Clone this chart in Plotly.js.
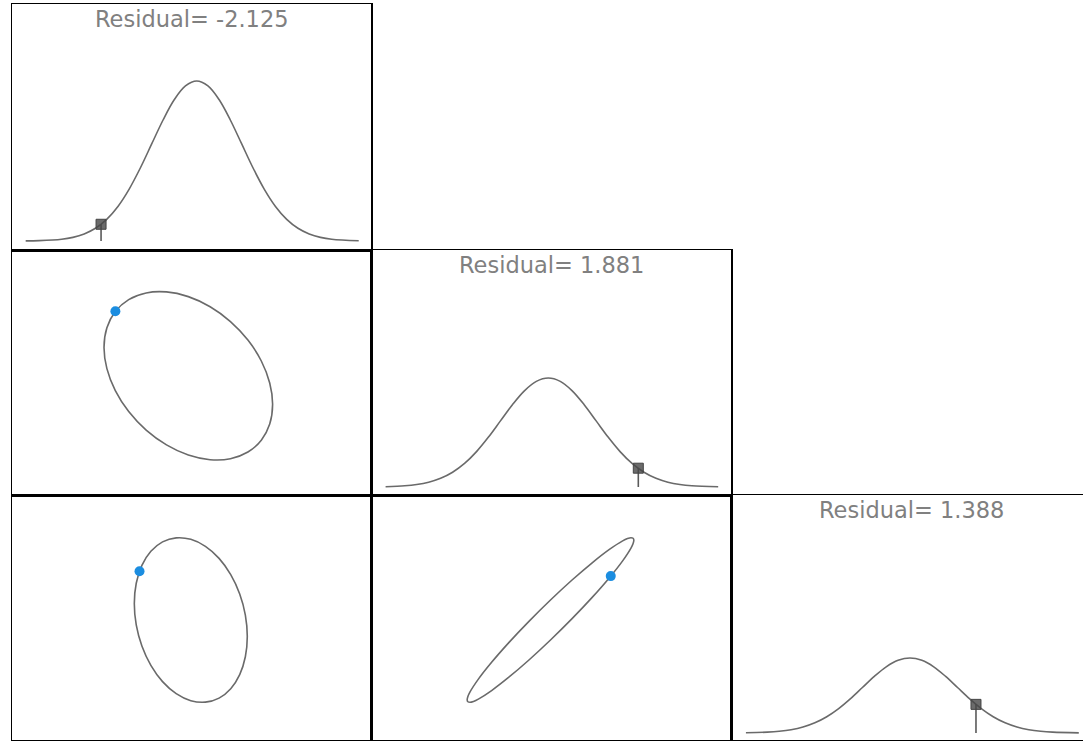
<!DOCTYPE html>
<html>
<head>
<meta charset="utf-8">
<script src="https://cdn.plot.ly/plotly-3.0.1.min.js"></script>
<style>
    html, body { margin: 0; padding: 0; overflow: hidden; background: #fff; }
    #cornerPlot { width: 1092px; height: 742px; }
</style>
</head>
<body>
<div id="cornerPlot"></div>
<script>
// standardized residuals of the three parameters
const residuals = [-2.125, 1.881, 1.388];
const residualDensity = [0.0418, 0.047, 0.0716];

// marginal densities (diagonal panels)
const marg1X = [-3.8, -3.5, -3, -2.75, -2.5, -2.25, -2, -1.75, -1.5, -1.25, -1, -0.75, -0.5, -0.25, 0, 0.25, 0.5, 0.75, 1, 1.25, 1.5, 1.75, 2, 2.25, 2.5, 2.75, 3, 3.6];
const marg1Y = [0.0003, 0.0009, 0.0044, 0.0091, 0.0176, 0.0318, 0.0541, 0.0865, 0.1299, 0.1831, 0.2426, 0.3019, 0.3530, 0.3877, 0.4000, 0.3877, 0.3530, 0.3019, 0.2426, 0.1831, 0.1299, 0.0865, 0.0541, 0.0318, 0.0176, 0.0091, 0.0044, 0.0006];
const marg2X = [-3.4, -3, -2.75, -2.5, -2.25, -2, -1.75, -1.5, -1.25, -1, -0.75, -0.5, -0.25, 0, 0.25, 0.5, 0.75, 1, 1.25, 1.5, 1.75, 2, 2.25, 2.5, 2.75, 3, 3.55];
const marg2Y = [0.0008, 0.0030, 0.0062, 0.0120, 0.0217, 0.0369, 0.0589, 0.0885, 0.1248, 0.1653, 0.2057, 0.2405, 0.2641, 0.2725, 0.2641, 0.2405, 0.2057, 0.1653, 0.1248, 0.0885, 0.0589, 0.0369, 0.0217, 0.0120, 0.0062, 0.0030, 0.0005];
const marg3X = [-3.45, -3, -2.75, -2.5, -2.25, -2, -1.75, -1.5, -1.25, -1, -0.75, -0.5, -0.25, 0, 0.25, 0.5, 0.75, 1, 1.25, 1.5, 1.75, 2, 2.25, 2.5, 2.75, 3, 3.55];
const marg3Y = [0.0005, 0.0021, 0.0043, 0.0082, 0.0149, 0.0254, 0.0406, 0.0609, 0.0858, 0.1137, 0.1415, 0.1655, 0.1817, 0.1875, 0.1817, 0.1655, 0.1415, 0.1137, 0.0858, 0.0609, 0.0406, 0.0254, 0.0149, 0.0082, 0.0043, 0.0021, 0.0003];

// joint contours passing through the residual point (off-diagonal panels)
const ell12X = [2.456, 2.372, 2.127, 1.737, 1.228, 0.636, 0, -0.636, -1.228, -1.737, -2.127, -2.372, -2.456, -2.372, -2.127, -1.737, -1.228, -0.636, 0, 0.636, 1.228, 1.737, 2.127, 2.372, 2.456];
const ell12Y = [-0.835, -0.209, 0.432, 1.043, 1.583, 2.015, 2.310, 2.447, 2.418, 2.224, 1.878, 1.404, 0.835, 0.209, -0.432, -1.043, -1.583, -2.015, -2.310, -2.447, -2.418, -2.224, -1.878, -1.404, -0.835];
const ell13X = [2.341, 2.261, 2.027, 1.655, 1.171, 0.606, 0, -0.606, -1.171, -1.655, -2.027, -2.261, -2.341, -2.261, -2.027, -1.655, -1.171, -0.606, 0, 0.606, 1.171, 1.655, 2.027, 2.261, 2.341];
const ell13Y = [-0.468, 0.141, 0.741, 1.291, 1.752, 2.094, 2.294, 2.337, 2.221, 1.953, 1.552, 1.046, 0.468, -0.141, -0.741, -1.291, -1.752, -2.094, -2.294, -2.337, -2.221, -1.953, -1.552, -1.046, -0.468];
const ell23X = [2.601, 2.579, 2.512, 2.403, 2.252, 1.839, 1.301, 0.673, 0, -0.673, -1.301, -1.839, -2.252, -2.512, -2.579, -2.601, -2.579, -2.512, -2.403, -2.252, -1.839, -1.301, -0.673, 0, 0.673, 1.301, 1.839, 2.252, 2.512, 2.579, 2.601];
const ell23Y = [2.523, 2.584, 2.601, 2.573, 2.501, 2.231, 1.809, 1.264, 0.632, -0.042, -0.714, -1.337, -1.869, -2.273, -2.419, -2.523, -2.584, -2.601, -2.573, -2.501, -2.231, -1.809, -1.264, -0.632, 0.042, 0.714, 1.337, 1.869, 2.273, 2.419, 2.523];

const GRID_W = 1092;
const GRID_H = 742;
const colEdges = [12, 371, 731, 1091];
const rowEdges = [4, 250, 495, 740];

const CURVE_COLOR = '#6a6a6a';
const POINT_COLOR = '#1b8de0';

// one entry per drawn subplot, upper triangle stays empty
const panels = [
    { id: '',  row: 0, col: 0, xr: [-4.104, 3.873], yr: [-0.0225, 0.5925] },
    { id: '2', row: 1, col: 0, xr: [-5.137, 5.323], yr: [-3.477, 3.670] },
    { id: '3', row: 1, col: 1, xr: [-3.705, 3.818], yr: [-0.02, 0.5925] },
    { id: '4', row: 2, col: 0, xr: [-7.410, 7.468], yr: [-3.413, 3.555] },
    { id: '5', row: 2, col: 1, xr: [-5.604, 5.635], yr: [-3.793, 3.951] },
    { id: '6', row: 2, col: 2, xr: [-3.764, 3.807], yr: [-0.0175, 0.595] }
];

function frameAxis(domain, range, anchor) {
    return {
        domain: domain,
        range: range,
        anchor: anchor,
        showline: true,
        mirror: true,
        linecolor: '#000',
        linewidth: 1.5,
        showgrid: false,
        zeroline: false,
        showticklabels: false,
        ticks: '',
        fixedrange: true
    };
}

function marginalTraces(id, x, y, i) {
    const xa = 'x' + id, ya = 'y' + id;
    return [
        { x: x, y: y, xaxis: xa, yaxis: ya, type: 'scatter', mode: 'lines',
          line: { color: CURVE_COLOR, width: 1.6, shape: 'spline' }, hoverinfo: 'skip' },
        { x: [residuals[i], residuals[i]], y: [0, residualDensity[i]], xaxis: xa, yaxis: ya,
          type: 'scatter', mode: 'lines', line: { color: '#5a5a5a', width: 1.6 }, hoverinfo: 'skip' },
        { x: [residuals[i]], y: [residualDensity[i]], xaxis: xa, yaxis: ya, type: 'scatter', mode: 'markers',
          marker: { symbol: 'square', size: 10, color: 'rgba(70,70,70,0.8)', line: { color: '#444', width: 1 } } }
    ];
}

function jointTraces(id, x, y, i, j) {
    const xa = 'x' + id, ya = 'y' + id;
    return [
        { x: x, y: y, xaxis: xa, yaxis: ya, type: 'scatter', mode: 'lines',
          line: { color: CURVE_COLOR, width: 1.6, shape: 'spline' }, hoverinfo: 'skip' },
        { x: [residuals[i]], y: [residuals[j]], xaxis: xa, yaxis: ya, type: 'scatter', mode: 'markers',
          marker: { size: 10, color: POINT_COLOR } }
    ];
}

const traces = [].concat(
    marginalTraces('', marg1X, marg1Y, 0),
    jointTraces('2', ell12X, ell12Y, 0, 1),
    marginalTraces('3', marg2X, marg2Y, 1),
    jointTraces('4', ell13X, ell13Y, 0, 2),
    jointTraces('5', ell23X, ell23Y, 1, 2),
    marginalTraces('6', marg3X, marg3Y, 2)
);

const layout = {
    width: GRID_W,
    height: GRID_H,
    margin: { t: 0, r: 0, b: 0, l: 0 },
    paper_bgcolor: '#fff',
    plot_bgcolor: '#fff',
    showlegend: false,
    font: { family: 'DejaVu Sans, Liberation Sans, sans-serif', color: '#808080' },
    annotations: []
};

panels.forEach(p => {
    const xd = [colEdges[p.col] / GRID_W, colEdges[p.col + 1] / GRID_W];
    const yd = [1 - rowEdges[p.row + 1] / GRID_H, 1 - rowEdges[p.row] / GRID_H];
    layout['xaxis' + p.id] = frameAxis(xd, p.xr, 'y' + p.id);
    layout['yaxis' + p.id] = frameAxis(yd, p.yr, 'x' + p.id);
});

// titles over the marginal panels
[['', 0], ['3', 1], ['6', 2]].forEach(([id, i]) => {
    layout.annotations.push({
        text: 'Residual= ' + residuals[i].toFixed(3),
        xref: 'x' + id + ' domain',
        yref: 'y' + id + ' domain',
        x: 0.5,
        y: 1,
        xanchor: 'center',
        yanchor: 'middle',
        yshift: -15,
        showarrow: false,
        font: { size: 22.5, color: '#808080' }
    });
});

Plotly.newPlot('cornerPlot', traces, layout, { staticPlot: true, displayModeBar: false });
</script>
</body>
</html>
